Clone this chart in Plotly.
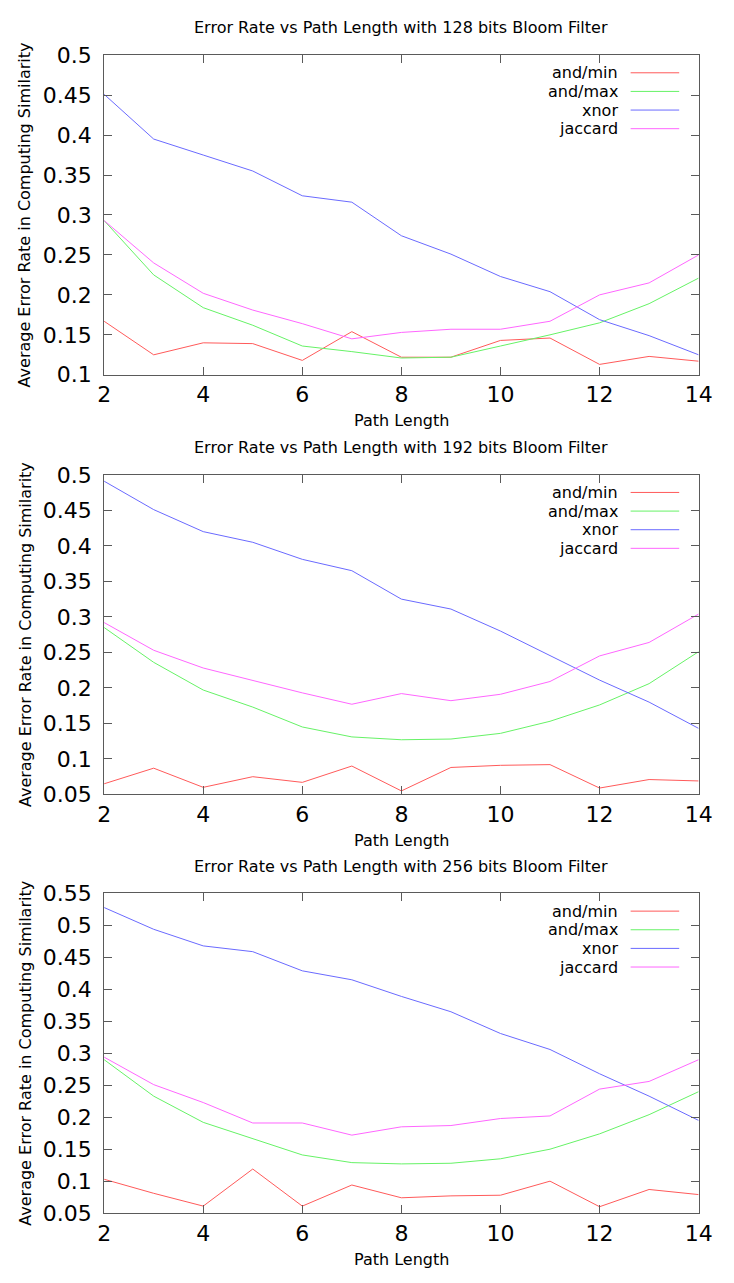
import plotly.graph_objects as go

# Path lengths on the x axis
path_length = list(range(2, 15))

series_names = ["and/min", "and/max", "xnor", "jaccard"]
series_colors = ["#ff5a5a", "#66f266", "#6a6aff", "#ff66ff"]

# 128 bits Bloom filter
bf128_and_min = [0.167, 0.125, 0.140, 0.139, 0.118, 0.154, 0.122, 0.122, 0.143, 0.146, 0.113, 0.123, 0.117]
bf128_and_max = [0.293, 0.225, 0.184, 0.162, 0.136, 0.129, 0.121, 0.122, 0.136, 0.150, 0.165, 0.189, 0.221]
bf128_xnor = [0.451, 0.395, 0.375, 0.355, 0.324, 0.316, 0.274, 0.251, 0.223, 0.204, 0.169, 0.149, 0.125]
bf128_jaccard = [0.293, 0.240, 0.202, 0.181, 0.164, 0.145, 0.153, 0.157, 0.157, 0.167, 0.200, 0.215, 0.250]

# 192 bits Bloom filter
bf192_and_min = [0.065, 0.087, 0.060, 0.075, 0.067, 0.090, 0.055, 0.088, 0.091, 0.092, 0.059, 0.071, 0.069]
bf192_and_max = [0.285, 0.236, 0.197, 0.173, 0.145, 0.131, 0.127, 0.128, 0.136, 0.153, 0.176, 0.206, 0.251]
bf192_xnor = [0.491, 0.451, 0.420, 0.405, 0.381, 0.365, 0.325, 0.311, 0.280, 0.245, 0.211, 0.180, 0.143]
bf192_jaccard = [0.292, 0.253, 0.228, 0.210, 0.193, 0.177, 0.192, 0.182, 0.191, 0.209, 0.245, 0.264, 0.304]

# 256 bits Bloom filter
bf256_and_min = [0.103, 0.081, 0.061, 0.119, 0.061, 0.094, 0.074, 0.077, 0.078, 0.100, 0.060, 0.087, 0.079]
bf256_and_max = [0.290, 0.233, 0.192, 0.166, 0.141, 0.129, 0.127, 0.128, 0.135, 0.150, 0.174, 0.204, 0.240]
bf256_xnor = [0.528, 0.494, 0.468, 0.459, 0.429, 0.415, 0.389, 0.365, 0.331, 0.306, 0.268, 0.233, 0.195]
bf256_jaccard = [0.294, 0.251, 0.223, 0.191, 0.191, 0.172, 0.185, 0.187, 0.198, 0.202, 0.244, 0.256, 0.290]

panels = [
    {"bits": 128, "series": [bf128_and_min, bf128_and_max, bf128_xnor, bf128_jaccard],
     "yrange": [0.1, 0.5], "dtick": 0.05},
    {"bits": 192, "series": [bf192_and_min, bf192_and_max, bf192_xnor, bf192_jaccard],
     "yrange": [0.05, 0.5], "dtick": 0.05},
    {"bits": 256, "series": [bf256_and_min, bf256_and_max, bf256_xnor, bf256_jaccard],
     "yrange": [0.05, 0.55], "dtick": 0.05},
]

W, H = 734, 1283
FONT = "DejaVu Sans"


def px_x(v):
    """Pixel column -> paper x."""
    return v / W


def px_y(v):
    """Pixel row -> paper y."""
    return 1 - v / H


x_left, x_right = 100, 712
# (top, bottom) pixel rows of each plot area
plot_rows = [(44, 370), (472, 798), (899, 1225)]

fig = go.Figure()
layout = dict(
    width=W, height=H,
    margin=dict(l=0, r=0, t=0, b=0),
    paper_bgcolor="white", plot_bgcolor="white",
    showlegend=False,
    font=dict(family=FONT, color="black"),
)
annotations = []
shapes = []

for i, panel in enumerate(panels):
    n = "" if i == 0 else str(i + 1)
    xa, ya = "x" + n, "y" + n
    top, bottom = plot_rows[i]
    for name, color, values in zip(series_names, series_colors, panel["series"]):
        fig.add_trace(go.Scatter(
            x=path_length, y=values, mode="lines", name=name,
            line=dict(color=color, width=1), xaxis=xa, yaxis=ya,
        ))
    axis_common = dict(
        showgrid=False, zeroline=False,
        showline=True, linecolor="#5a5a5a", linewidth=1, mirror="allticks",
        ticks="inside", ticklen=8, tickcolor="#5a5a5a", tickwidth=1,
        tickfont=dict(family=FONT, size=22, color="black"),
    )
    layout["xaxis" + n] = dict(
        axis_common, domain=[px_x(x_left), px_x(x_right)], range=[2, 14],
        tickmode="array", tickvals=[2, 4, 6, 8, 10, 12, 14],
        anchor=ya, ticklabelstandoff=0,
    )
    layout["yaxis" + n] = dict(
        axis_common, domain=[px_y(bottom), px_y(top)], range=panel["yrange"],
        tick0=0, dtick=panel["dtick"], anchor=xa, ticklabelstandoff=7,
    )
    cx = px_x((x_left + x_right) / 2)
    # Title
    annotations.append(dict(
        text=f"Error Rate vs Path Length with {panel['bits']} bits Bloom Filter",
        xref="paper", yref="paper", x=cx, y=px_y(top - 28),
        xanchor="center", yanchor="middle", showarrow=False,
        font=dict(family=FONT, size=16, color="black"),
    ))
    # Axis titles
    annotations.append(dict(
        text="Path Length", xref="paper", yref="paper",
        x=cx, y=px_y(bottom + 47), xanchor="center", yanchor="middle",
        showarrow=False, font=dict(family=FONT, size=16, color="black"),
    ))
    annotations.append(dict(
        text="Average Error Rate in Computing Similarity", xref="paper", yref="paper",
        x=px_x(19), y=px_y((top + bottom) / 2), xanchor="center", yanchor="middle",
        textangle=-90, showarrow=False, font=dict(family=FONT, size=16, color="black"),
    ))
    # Key: label on the left, line sample on the right
    for k, (name, color) in enumerate(zip(series_names, series_colors)):
        yp = px_y(top + 18 + 19 * k)
        annotations.append(dict(
            text=name, xref="paper", yref="paper", x=px_x(631), y=yp,
            xanchor="right", yanchor="middle", showarrow=False,
            font=dict(family=FONT, size=16, color="black"),
        ))
        shapes.append(dict(
            type="line", xref="paper", yref="paper",
            x0=px_x(642), x1=px_x(692), y0=yp, y1=yp,
            line=dict(color=color, width=1),
        ))

layout["annotations"] = annotations
layout["shapes"] = shapes
fig.update_layout(**layout)
fig.write_html("out.html")
